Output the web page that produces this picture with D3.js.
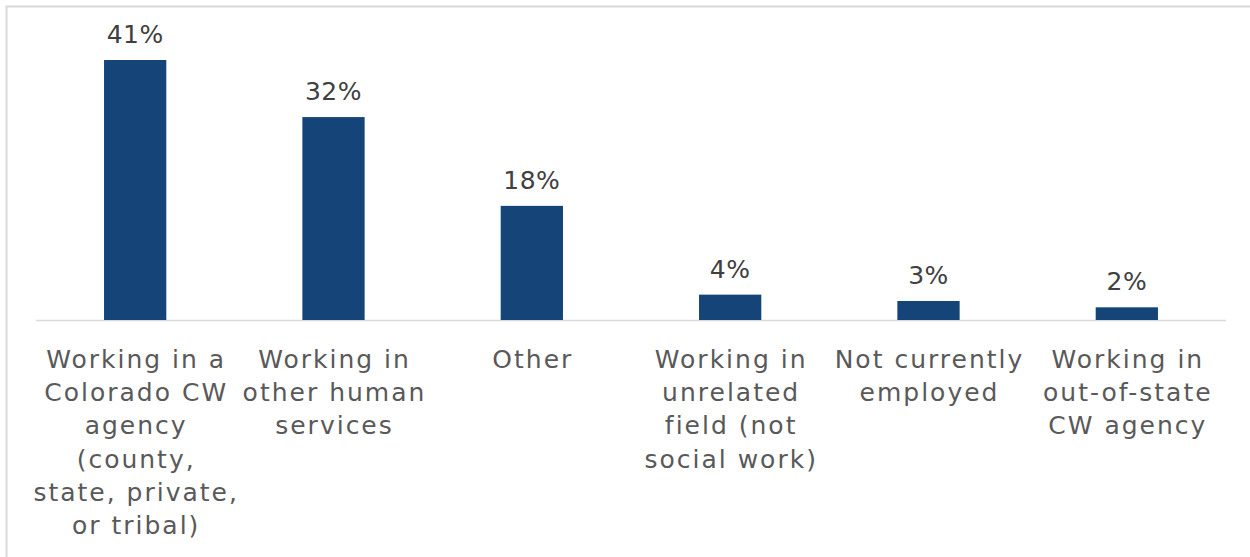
<!DOCTYPE html>
<html><head><meta charset="utf-8">
<script src="https://cdn.jsdelivr.net/npm/d3@7"></script>
<style>body{margin:0;background:#fff;}svg{display:block;}</style>
</head><body>
<svg id="c" width="1250" height="557"></svg>
<script>
const categories = [
  ["Working in a","Colorado CW","agency","(county,","state, private,","or tribal)"],
  ["Working in","other human","services"],
  ["Other"],
  ["Working in","unrelated","field (not","social work)"],
  ["Not currently","employed"],
  ["Working in","out-of-state","CW agency"]
];
const values = [41, 32, 18, 4, 3, 2];
const valueLabels = ["41%","32%","18%","4%","3%","2%"];

const svg = d3.select("#c");
const font = "'DejaVu Sans', Verdana, sans-serif";
svg.append("rect").attr("x",6.5).attr("y",6.5).attr("width",1260).attr("height",560)
  .attr("fill","none").attr("stroke","#d9d9d9").attr("stroke-width",2);

const left = 36, right = 1226, baseY = 320;
const x = d3.scaleBand().domain(d3.range(values.length)).range([left,right]).paddingInner(0.686).paddingOuter(0.343);
const y = d3.scaleLinear().domain([0,41]).range([baseY, 60]);

svg.append("line").attr("x1",left).attr("x2",right).attr("y1",baseY+0.5).attr("y2",baseY+0.5)
  .attr("stroke","#d9d9d9").attr("stroke-width",1.5);

svg.selectAll("rect.bar").data(values).join("rect").attr("class","bar")
  .attr("x",(d,i)=>x(i)).attr("width",x.bandwidth())
  .attr("y",d=>y(d)).attr("height",d=>baseY-y(d)).attr("fill","#154578");

svg.selectAll("text.val").data(values).join("text").attr("class","val")
  .attr("x",(d,i)=>x(i)+x.bandwidth()/2).attr("y",d=>y(d)-17)
  .attr("text-anchor","middle").attr("font-family",font).attr("font-size",25)
  .attr("letter-spacing",0.5).attr("fill","#404040").text((d,i)=>valueLabels[i]);

const ls = 2;
const g = svg.selectAll("text.cat").data(categories).join("text").attr("class","cat")
  .attr("text-anchor","middle").attr("font-family",font).attr("font-size",25)
  .attr("letter-spacing",ls).attr("fill","#595959");
g.each(function(lines,i){
  const t = d3.select(this);
  lines.forEach((l,j)=>{
    t.append("tspan").attr("x",x(i)+x.bandwidth()/2+ls/2).attr("y",368+j*33.2).text(l);
  });
});
</script>
</body></html>
